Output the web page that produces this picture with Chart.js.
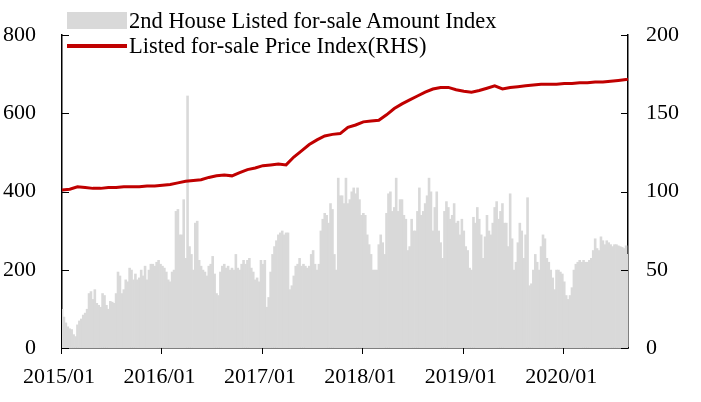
<!DOCTYPE html>
<html>
<head>
<meta charset="utf-8">
<script src="https://cdn.jsdelivr.net/npm/chart.js@4.4.1/dist/chart.umd.min.js"></script>
<style>
  body { margin: 0; background: #fff; }
  #wrap { position: relative; width: 701px; height: 402px; }
  #legend { position: absolute; left: 67px; top: 8px; font-family: "Liberation Serif", serif; font-size: 22.5px; color: #000; line-height: 25px; }
  .item { display: flex; align-items: center; }
  .sw { width: 60px; margin-right: 2px; }
</style>
</head>
<body>
<div id="wrap">
  <canvas id="c" width="701" height="402"></canvas>
  <div id="legend">
    <div class="item"><span class="sw" style="height:17px;background:#d9d9d9"></span>2nd House Listed for-sale Amount Index</div>
    <div class="item"><span class="sw" style="height:4px;background:#c00000"></span>Listed for-sale Price Index(RHS)</div>
  </div>
</div>
<script>
const yearLabels = ["2015/01", "2016/01", "2017/01", "2018/01", "2019/01", "2020/01"];

const amount2015 = [100,80,65,55,50,48,35,30,60,70,75,85,90,100,140,145,125,150,115,110,105,140,135,110,100,120,118,115,140,195,185,140,150,175,170,205,200,175,190,175,180,200,185,210,175,200,215,215,210,220,225,215];
const amount2016 = [210,205,195,175,170,195,200,350,355,290,290,380,230,645,260,240,200,320,325,225,210,200,195,185,210,215,235,190,140,135,195,210,215,205,210,200,205,200,240,205,200,215,225,215,225,230,205,195,175,180,170,225];
const amount2017 = [215,225,105,130,195,240,260,275,290,295,300,290,295,295,150,160,185,210,215,230,210,215,210,205,210,240,250,215,200,215,300,330,345,340,320,370,355,240,200,435,390,390,370,435,370,380,400,410,395,410,380,340];
const amount2018 = [345,340,290,265,240,200,200,200,265,290,270,240,345,395,400,350,360,435,350,380,380,340,330,250,260,330,300,300,350,410,340,350,370,390,435,400,300,360,400,300,270,230,350,375,360,330,340,370,320,325,290,330];
const amount2019 = [300,260,250,205,200,335,320,360,330,290,230,285,340,300,290,320,360,375,330,350,370,320,320,260,395,280,200,220,270,320,300,230,290,385,160,165,200,240,220,200,260,290,280,230,220,200,180,150,200,200,195,190];
const amount2020 = [170,135,125,135,155,200,215,220,225,220,225,220,220,225,230,250,280,255,250,285,275,265,275,270,265,260,265,265,262,260,258,255,262,240];
const amount = [].concat(amount2015, amount2016, amount2017, amount2018, amount2019, amount2020);

// price index, one reading every 4 weeks
const priceStep = 4;
const priceVals = [
  101,101.5,103,102.5,102,102,102.5,102.5,103,103,103,103.5,103.5,
  104,104.5,105.5,106.5,107,107.5,109,110,110.5,110,112,114,115,
  116.5,117,117.5,117,122,126,130,133,135.5,136.5,137,141,142.5,
  144.5,145,145.5,149,153,156,158.5,161,163.5,165.5,166.5,166.5,165,
  164,163.5,164.5,166,167.5,165.5,166.5,167,167.5,168,168.5,168.5,168.5,
  169,169,169.5,169.5,170,170,170.5,171,171.5
];

const labels = amount.map((v, i) => (i % 52 === 0 ? yearLabels[i / 52] : ""));
// weekly slots, filled only where a reading exists
const priceData = amount.map((v, i) => (i % priceStep === 0 && priceVals[i / priceStep] !== undefined ? priceVals[i / priceStep] : null));
priceData[amount.length - 1] = priceVals[priceVals.length - 1] + 0.3;

const font = { family: "Liberation Serif", size: 22 };

// inward tick marks on both y axes, outward on x axis
const tickMarks = {
  id: "tickMarks",
  afterDraw(chart) {
    const ctx = chart.ctx, a = chart.chartArea;
    ctx.save();
    ctx.strokeStyle = "#000";
    ctx.lineWidth = 1;
    ctx.beginPath();
    chart.scales.y.ticks.forEach(t => {
      const py = Math.round(chart.scales.y.getPixelForValue(t.value)) + 0.5;
      ctx.moveTo(a.left, py); ctx.lineTo(a.left + 7, py);
    });
    chart.scales.y2.ticks.forEach(t => {
      const py = Math.round(chart.scales.y2.getPixelForValue(t.value)) + 0.5;
      ctx.moveTo(a.right, py); ctx.lineTo(a.right - 7, py);
    });
    for (let i = 0; i < amount.length; i += 52) {
      const px = Math.round(chart.scales.x.getPixelForValue(i) - chart.scales.x.width / amount.length / 2) + 0.5;
      ctx.moveTo(px, a.bottom); ctx.lineTo(px, a.bottom + 6);
    }
    ctx.stroke();
    ctx.restore();
  }
};

new Chart(document.getElementById("c"), {
  data: {
    labels: labels,
    datasets: [
      {
        type: "line",
        data: priceData,
        yAxisID: "y2",
        borderColor: "#c00000",
        borderWidth: 3,
        pointRadius: 0,
        tension: 0,
        spanGaps: true,
        order: 0
      },
      {
        type: "bar",
        data: amount,
        yAxisID: "y",
        backgroundColor: "#d9d9d9",
        borderWidth: 0,
        categoryPercentage: 1,
        barPercentage: 1.35,
        order: 1
      }
    ]
  },
  options: {
    responsive: false,
    animation: false,
    layout: { padding: { top: 35, right: 0, left: 0, bottom: 0 } },
    plugins: { legend: { display: false }, tooltip: { enabled: false } },
    scales: {
      x: {
        offset: false,
        grid: { display: false },
        border: { color: "#000", width: 1.5 },
        afterFit(s) { s.height = 54; },
        ticks: {
          autoSkip: false,
          maxRotation: 0,
          color: "#000",
          font: font,
          padding: 8,
          align: "start",
          labelOffset: -39,
          callback(v, i) { return labels[i] ? labels[i] : null; }
        }
      },
      y: {
        position: "left",
        min: 0, max: 800,
        grid: { display: false },
        border: { color: "#000", width: 1.5 },
        afterFit(s) { s.width = 62; },
        ticks: { stepSize: 200, color: "#000", font: font, padding: 18 }
      },
      y2: {
        position: "right",
        min: 0, max: 200,
        grid: { display: false },
        border: { color: "#000", width: 1.5 },
        afterFit(s) { s.width = 73; },
        ticks: { stepSize: 50, color: "#000", font: font, padding: 10 }
      }
    }
  },
  plugins: [tickMarks]
});
</script>
</body>
</html>
